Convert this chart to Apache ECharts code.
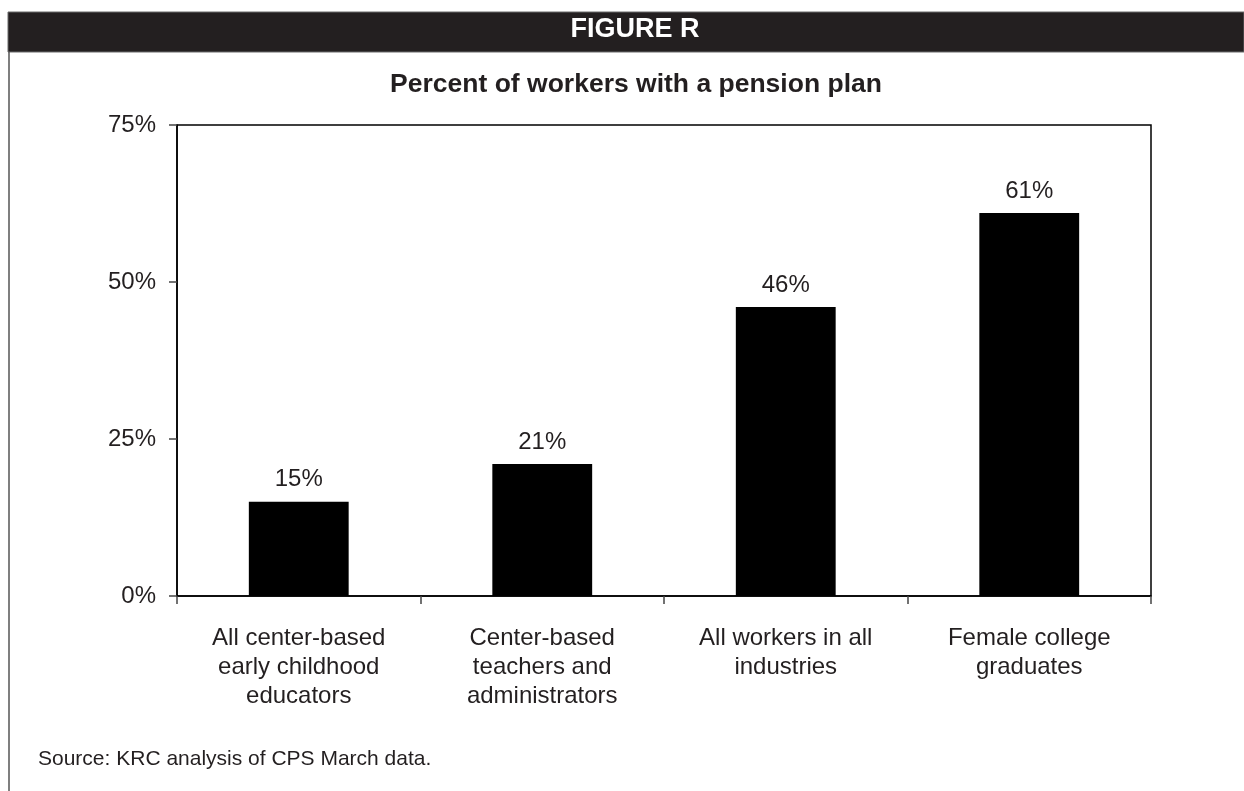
<!DOCTYPE html>
<html>
<head>
<meta charset="utf-8">
<script src="https://cdn.jsdelivr.net/npm/echarts@6/dist/echarts.min.js"></script>
<style>
  html, body { margin: 0; padding: 0; background: #fff; }
  #chart { width: 1244px; height: 791px; }
</style>
</head>
<body>
<div id="chart"></div>
<script>
// Pension coverage by worker group (percent)
const categories = [
  'All center-based\nearly childhood\neducators',
  'Center-based\nteachers and\nadministrators',
  'All workers in all\nindustries',
  'Female college\ngraduates'
];
const pensionShare = [15, 21, 46, 61];
const yTicks = [0, 25, 50, 75];

const FONT = '"Liberation Sans", Arial, Helvetica, sans-serif';
const INK = '#231f20';

const chart = echarts.init(document.getElementById('chart'), null, { renderer: 'canvas' });

chart.setOption({
  backgroundColor: '#ffffff',
  animation: false,
  textStyle: { fontFamily: FONT },
  graphic: [
    // dark header band
    { type: 'rect', x: 8, y: 12, shape: { width: 1236, height: 40 },
      style: { fill: INK, stroke: '#6b6b6b', lineWidth: 1 }, silent: true },
    { type: 'text', x: 635, y: 30,
      style: { text: 'FIGURE R', fill: '#ffffff', font: 'bold 27px ' + FONT,
               textAlign: 'center', textVerticalAlign: 'middle' } },
    // left frame line
    { type: 'line', shape: { x1: 9, y1: 52, x2: 9, y2: 791 },
      style: { stroke: '#555555', lineWidth: 1.5 } },
    // source note
    { type: 'text', x: 38, y: 759,
      style: { text: 'Source: KRC analysis of CPS March data.', fill: INK,
               font: '21px ' + FONT, textVerticalAlign: 'middle' } }
  ],
  title: {
    text: 'Percent of workers with a pension plan',
    left: 631, top: 66, textAlign: 'center',
    textStyle: { fontFamily: FONT, fontWeight: 'bold', fontSize: 26.5, color: INK }
  },
  grid: {
    left: 177, right: 93, top: 125, bottom: 195,
    show: true, borderColor: '#000', borderWidth: 1.5, backgroundColor: 'transparent'
  },
  xAxis: {
    type: 'category',
    data: categories,
    boundaryGap: true,
    axisLine: { show: true, lineStyle: { color: '#000', width: 1.5 } },
    axisTick: { show: true, length: 8, alignWithLabel: false, lineStyle: { color: '#444', width: 1.5 } },
    axisLabel: {
      interval: 0, margin: 28, color: INK, fontSize: 24, lineHeight: 29,
      fontFamily: FONT, align: 'center'
    },
    splitLine: { show: false }
  },
  yAxis: {
    type: 'value',
    min: 0, max: 75, interval: 25,
    axisLine: { show: true, lineStyle: { color: '#000', width: 1.5 } },
    axisTick: { show: true, length: 8, lineStyle: { color: '#444', width: 1.5 } },
    axisLabel: {
      margin: 21, color: INK, fontSize: 24, fontFamily: FONT,
      formatter: v => (yTicks.includes(v) ? v + '%' : '')
    },
    splitLine: { show: false }
  },
  series: [{
    type: 'bar',
    data: pensionShare,
    barWidth: '41%',
    itemStyle: { color: '#000' },
    label: {
      show: true, position: 'top', distance: 10,
      formatter: p => p.value + '%',
      color: INK, fontSize: 24, fontFamily: FONT
    }
  }]
});
</script>
</body>
</html>
